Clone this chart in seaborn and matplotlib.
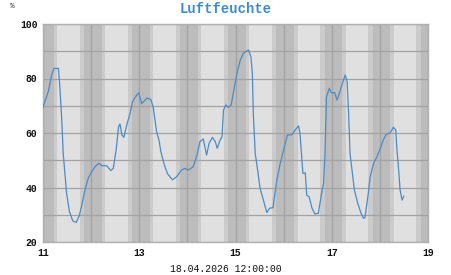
import matplotlib
matplotlib.use("Agg")
import matplotlib.pyplot as plt
import seaborn as sns
import pandas as pd
import numpy as np

# day-of-month (fractional) and relative humidity in %
days = [11.00, 11.11, 11.18, 11.23, 11.32, 11.35, 11.39, 11.42, 11.49, 11.55, 11.62, 11.69, 11.75,
        11.80, 11.87, 11.94, 12.01, 12.08, 12.16, 12.22, 12.32, 12.41, 12.46, 12.52, 12.57, 12.60,
        12.64, 12.68, 12.75, 12.81, 12.86, 12.95, 12.99, 13.05, 13.16, 13.24, 13.29, 13.36, 13.41,
        13.45, 13.52, 13.59, 13.69, 13.78, 13.88, 13.95, 14.02, 14.12, 14.20, 14.26, 14.33, 14.40,
        14.45, 14.52, 14.58, 14.62, 14.68, 14.72, 14.75, 14.80, 14.85, 14.91, 14.96, 15.03, 15.10,
        15.16, 15.27, 15.32, 15.35, 15.37, 15.41, 15.46, 15.51, 15.58, 15.65, 15.71, 15.78, 15.80,
        15.86, 15.93, 16.00, 16.08, 16.17, 16.24, 16.31, 16.34, 16.38, 16.40, 16.45, 16.48, 16.53,
        16.59, 16.65, 16.72, 16.79, 16.83, 16.86, 16.89, 16.95, 16.99, 17.06, 17.11, 17.17, 17.22,
        17.28, 17.32, 17.35, 17.38, 17.42, 17.47, 17.54, 17.61, 17.66, 17.69, 17.75, 17.80, 17.87,
        17.94, 18.01, 18.07, 18.13, 18.20, 18.25, 18.28, 18.33, 18.35, 18.39, 18.42, 18.46, 18.50]
humidity = [69.4, 75.2, 81.3, 83.7, 83.7, 77.0, 64.8, 52.5, 37.9, 31.1, 27.7, 27.2, 29.5,
            33.0, 39.0, 43.4, 45.8, 47.6, 48.9, 48.0, 48.0, 46.2, 47.0, 53.8, 62.3, 63.3,
            59.3, 58.4, 63.6, 67.2, 71.5, 74.0, 74.8, 70.8, 72.8, 72.3, 69.5, 60.5, 57.4,
            53.1, 48.3, 45.0, 42.8, 44.0, 46.4, 47.0, 46.4, 47.6, 51.9, 56.8, 57.8, 51.9,
            56.2, 58.4, 56.8, 54.4, 57.4, 58.6, 68.4, 70.3, 69.4, 70.3, 75.2, 81.9, 86.8,
            89.2, 90.5, 88.0, 81.9, 67.2, 52.5, 46.4, 39.7, 35.4, 30.8, 32.4, 32.6, 35.4,
            42.8, 48.9, 53.8, 59.3, 59.3, 61.1, 62.6, 59.9, 50.1, 45.2, 45.4, 37.2, 36.6,
            32.4, 30.3, 30.5, 37.9, 41.5, 52.5, 73.3, 76.4, 74.8, 74.8, 72.1, 75.2, 78.2,
            81.3, 78.8, 67.2, 52.5, 46.4, 39.1, 34.2, 30.5, 28.7, 28.9, 36.6, 44.0, 48.9,
            51.3, 54.4, 57.4, 59.5, 59.9, 61.1, 62.1, 61.1, 55.0, 46.4, 39.1, 35.4, 36.9]

x_ticks = [11, 13, 15, 17, 19]
y_ticks = [20, 40, 60, 80, 100]
title = "Luftfeuchte"
unit = "%"
stamp = "18.04.2026 12:00:00"

# night (sun below horizon) and twilight offsets around midnight, in days
night_days = list(range(11, 20))
twilight_start, dark_start, dark_end, twilight_end = -0.24, -0.15, 0.22, 0.29

df = pd.DataFrame({"day": days, "rh": humidity})

sns.set_style("white")
mono = ["Liberation Mono", "DejaVu Sans Mono"]
plt.rcParams["font.family"] = mono

fig = plt.figure(figsize=(4.51, 2.75), dpi=100)
ax = fig.add_axes([43 / 451, 1 - 242 / 275, 385 / 451, 218 / 275])
ax.set_facecolor("#e0e0e0")

for n in night_days:
    ax.axvspan(n + twilight_start, n + dark_start, color="#cbcbcb", lw=0, zorder=0)
    ax.axvspan(n + dark_start, n + dark_end, color="#bcbcbc", lw=0, zorder=0)
    ax.axvspan(n + dark_end, n + twilight_end, color="#cbcbcb", lw=0, zorder=0)

sns.lineplot(data=df, x="day", y="rh", ax=ax, color="#4b8bc6", lw=0.9, zorder=3)

ax.set_xlim(11, 19)
ax.set_ylim(20, 100)
ax.set_xticks(x_ticks)
ax.set_xticks(range(11, 20), minor=True)
ax.set_yticks(y_ticks)
ax.set_yticks(range(20, 101, 10), minor=True)
ax.grid(which="both", color="#a3a3a3", lw=0.9, zorder=1)
ax.set_axisbelow(True)
ax.tick_params(which="both", length=0)
ax.tick_params(axis="x", pad=4)
ax.tick_params(axis="y", pad=4)
for lab in ax.get_xticklabels() + ax.get_yticklabels():
    lab.set_fontweight("bold")
    lab.set_fontsize(7)
    lab.set_color("#111111")
ax.set_xlabel("")
ax.set_ylabel("")
for s in ax.spines.values():
    s.set_color("#b0b0b0")
    s.set_linewidth(1)

fig.text(226 / 451, 1 - 9 / 275, title, ha="center", va="center", fontsize=10,
         fontweight="bold", color="#3f8ccc", family=mono)
fig.text(12 / 451, 1 - 6 / 275, unit, ha="center", va="center", fontsize=5.5,
         color="#222222", family=mono)
fig.text(226 / 451, 1 - 269 / 275, stamp, ha="center", va="center", fontsize=7,
         color="#111111", family=mono)

fig.savefig("out.png", dpi=100)
